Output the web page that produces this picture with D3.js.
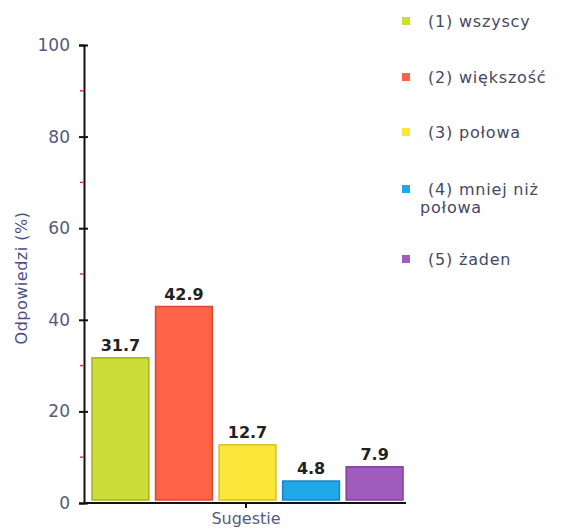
<!DOCTYPE html>
<html><head><meta charset="utf-8">
<script src="https://cdn.jsdelivr.net/npm/d3@7/dist/d3.min.js"></script>
<style>body{margin:0;background:#fff}svg{display:block}</style>
</head><body>
<svg id="c" width="569" height="531"></svg>
<script>
const categories = ["(1) wszyscy","(2) większość","(3) połowa","(4) mniej niż połowa","(5) żaden"];
const values = [31.7, 42.9, 12.7, 4.8, 7.9];
const colors = ["#cddc39","#ff6347","#fde63a","#20a8e8","#a15bbd"];
const strokes = ["#a3b020","#d84a30","#d6c020","#1785c0","#7f3f98"];
const yTicks = [0,20,40,60,80,100];
const yMinor = [10,30,50,70,90];
const legendLines = [["(1) wszyscy"],["(2) większość"],["(3) połowa"],["(4) mniej niż","połowa"],["(5) żaden"]];

const svg = d3.select("#c");
const font = "DejaVu Sans, Verdana, sans-serif";
const y = d3.scaleLinear().domain([0,100]).range([503,45]);
const x = d3.scaleBand().domain(categories).range([92,403]).paddingInner(0.106).paddingOuter(0);

// bars
svg.selectAll("rect.bar").data(values).join("rect")
  .attr("x",(d,i)=>x(categories[i])).attr("width",x.bandwidth())
  .attr("y",d=>y(d)).attr("height",d=>y(0)-3-y(d))
  .attr("fill",(d,i)=>colors[i]).attr("stroke",(d,i)=>strokes[i]).attr("stroke-width",1.5);

svg.selectAll("text.val").data(values).join("text")
  .attr("x",(d,i)=>x(categories[i])+x.bandwidth()/2).attr("y",d=>y(d)-7)
  .attr("text-anchor","middle").attr("font-family",font).attr("font-size",16).attr("font-weight","bold")
  .attr("fill","#222").text(d=>d.toFixed(1));

// y axis
const yAxis = svg.append("g").attr("transform","translate(84,0)")
  .call(d3.axisLeft(y).tickValues(yTicks).tickSize(5).tickPadding(9));
yAxis.select(".domain").attr("stroke","#111").attr("stroke-width",2);
yAxis.selectAll(".tick line").attr("stroke","#111").attr("stroke-width",2).attr("x2",4).attr("x1",-5);
yAxis.selectAll(".tick text").attr("font-family",font).attr("font-size",17).attr("fill","#555a80");

svg.append("g").selectAll("line").data(yMinor).join("line")
  .attr("x1",80).attr("x2",84).attr("y1",d=>y(d)).attr("y2",d=>y(d))
  .attr("stroke","#e03050").attr("stroke-width",1.5);

// x axis
svg.append("line").attr("x1",84).attr("x2",406).attr("y1",y(0)).attr("y2",y(0))
  .attr("stroke","#111").attr("stroke-width",2);
svg.append("line").attr("x1",246).attr("x2",246).attr("y1",y(0)).attr("y2",y(0)+5)
  .attr("stroke","#111").attr("stroke-width",2);
svg.append("text").attr("x",246).attr("y",524).attr("text-anchor","middle")
  .attr("font-family",font).attr("font-size",16).attr("fill","#555a80").text("Sugestie");

svg.append("text").attr("transform","translate(27,278) rotate(-90)").attr("text-anchor","middle")
  .attr("font-family",font).attr("font-size",16).attr("letter-spacing",0.5).attr("fill","#4a4f8a").text("Odpowiedzi (%)");

// legend
const ly = [22,78,133,190,260];
const lg = svg.append("g");
legendLines.forEach((lines,i)=>{
  lg.append("rect").attr("x",402).attr("y",ly[i]-5).attr("width",8).attr("height",8).attr("fill",colors[i]);
  const t = lg.append("text").attr("font-family",font).attr("font-size",16).attr("letter-spacing",0.8).attr("fill","#444866");
  lines.forEach((s,j)=>{
    t.append("tspan").attr("x", j===0 ? 428 : 420).attr("y",ly[i]+5+j*18).text(s);
  });
});
</script>
</body></html>
